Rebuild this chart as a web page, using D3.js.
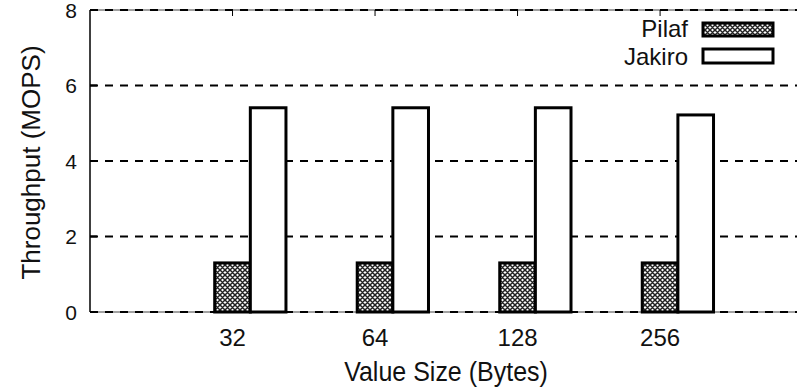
<!DOCTYPE html>
<html>
<head>
<meta charset="utf-8">
<script src="https://cdn.jsdelivr.net/npm/d3@7"></script>
<style>
  html, body { margin: 0; padding: 0; background: #fff; }
  svg { display: block; }
  text { font-family: "Liberation Sans", Arial, Helvetica, sans-serif; fill: #111; }
</style>
</head>
<body>
<svg id="chart" width="797" height="389"></svg>
<script>
// Throughput per value size, two systems
const categories = ["32", "64", "128", "256"];
const seriesNames = ["Pilaf", "Jakiro"];
const pilafValues = [1.3, 1.3, 1.3, 1.3];
const jakiroValues = [5.41, 5.41, 5.41, 5.22];
const yTicks = [0, 2, 4, 6, 8];

const svg = d3.select("#chart");
const W = 797, H = 389;

// Plot frame: right edge runs a little past the visible area
const plotLeft = 90, plotRight = 802.6, plotTop = 10, plotBottom = 312;

const x = d3.scaleLinear().domain([-1, 4]).range([plotLeft, plotRight]);
const y = d3.scaleLinear().domain([0, 8]).range([plotBottom, plotTop]);
const barW = 0.25;

// Crosshatch fill for the Pilaf bars
const defs = svg.append("defs");
const pat = defs.append("pattern")
  .attr("id", "xhatch")
  .attr("patternUnits", "userSpaceOnUse")
  .attr("width", 5).attr("height", 5);
pat.append("rect").attr("width", 5).attr("height", 5).attr("fill", "#fff");
pat.append("path")
  .attr("d", "M0,0L5,5M5,0L0,5M-1,4L1,6M4,-1L6,1M4,6L6,4M-1,1L1,-1")
  .attr("stroke", "#222").attr("stroke-width", 1.5);

// Solid frame lines (top border and bottom axis)
svg.append("line").attr("x1", plotLeft).attr("x2", W).attr("y1", plotTop).attr("y2", plotTop)
  .attr("stroke", "#444").attr("stroke-width", 1);
svg.append("line").attr("x1", plotLeft).attr("x2", W).attr("y1", plotBottom).attr("y2", plotBottom)
  .attr("stroke", "#444").attr("stroke-width", 1);

// Dashed horizontal grid
svg.append("g").selectAll("line").data(yTicks).join("line")
  .attr("x1", plotLeft).attr("x2", W)
  .attr("y1", d => y(d)).attr("y2", d => y(d))
  .attr("stroke", "#000").attr("stroke-width", 2)
  .attr("stroke-dasharray", "8,7");

// Left axis line with inward ticks
svg.append("line").attr("x1", plotLeft).attr("x2", plotLeft).attr("y1", plotTop).attr("y2", plotBottom)
  .attr("stroke", "#000").attr("stroke-width", 1.5);
svg.append("g").selectAll("line").data(yTicks).join("line")
  .attr("x1", plotLeft).attr("x2", plotLeft + 7)
  .attr("y1", d => y(d)).attr("y2", d => y(d))
  .attr("stroke", "#000").attr("stroke-width", 2);

// Category ticks on top (mirror) and bottom
categories.forEach((c, i) => {
  svg.append("line").attr("x1", x(i)).attr("x2", x(i)).attr("y1", plotTop).attr("y2", plotTop + 6)
    .attr("stroke", "#000").attr("stroke-width", 1);
  svg.append("line").attr("x1", x(i)).attr("x2", x(i)).attr("y1", plotBottom).attr("y2", plotBottom - 6)
    .attr("stroke", "#000").attr("stroke-width", 1);
});

// Bars
const bars = svg.append("g");
bars.selectAll("rect.pilaf").data(pilafValues).join("rect")
  .attr("class", "pilaf")
  .attr("x", (d, i) => x(i - barW / 2))
  .attr("width", (d, i) => x(i + barW / 2) - x(i - barW / 2))
  .attr("y", d => y(d))
  .attr("height", d => y(0) - y(d))
  .attr("fill", "url(#xhatch)")
  .attr("stroke", "#000").attr("stroke-width", 3);
bars.selectAll("rect.jakiro").data(jakiroValues).join("rect")
  .attr("class", "jakiro")
  .attr("x", (d, i) => x(i + barW / 2))
  .attr("width", (d, i) => x(i + 1.5 * barW) - x(i + barW / 2))
  .attr("y", d => y(d))
  .attr("height", d => y(0) - y(d))
  .attr("fill", "#fff")
  .attr("stroke", "#000").attr("stroke-width", 3);

// Y tick labels
svg.append("g").selectAll("text").data(yTicks).join("text")
  .attr("x", 77).attr("y", d => y(d) + 7.5)
  .attr("text-anchor", "end")
  .attr("font-size", 21)
  .text(d => d);

// X tick labels
svg.append("g").selectAll("text").data(categories).join("text")
  .attr("x", (d, i) => x(i)).attr("y", 346)
  .attr("text-anchor", "middle")
  .attr("font-size", 24)
  .text(d => d);

// Axis titles (x title slightly stretched vertically)
svg.append("text")
  .attr("transform", "translate(446,381) scale(1,1.1)")
  .attr("text-anchor", "middle")
  .attr("font-size", 25)
  .text("Value Size (Bytes)");
svg.append("text")
  .attr("transform", "translate(40,162.5) rotate(-90)")
  .attr("text-anchor", "middle")
  .attr("font-size", 26)
  .text("Throughput (MOPS)");

// Legend
const legend = svg.append("g");
const legendFill = ["url(#xhatch)", "#fff"];
const legendRows = [{ base: 37, y0: 23, h: 13 }, { base: 65, y0: 49, h: 14 }];
seriesNames.forEach((name, k) => {
  legend.append("text")
    .attr("x", 688).attr("y", legendRows[k].base)
    .attr("text-anchor", "end")
    .attr("font-size", 24)
    .text(name);
  legend.append("rect")
    .attr("x", 703).attr("y", legendRows[k].y0)
    .attr("width", 70).attr("height", legendRows[k].h)
    .attr("fill", legendFill[k])
    .attr("stroke", "#000").attr("stroke-width", 3);
});
</script>
</body>
</html>
